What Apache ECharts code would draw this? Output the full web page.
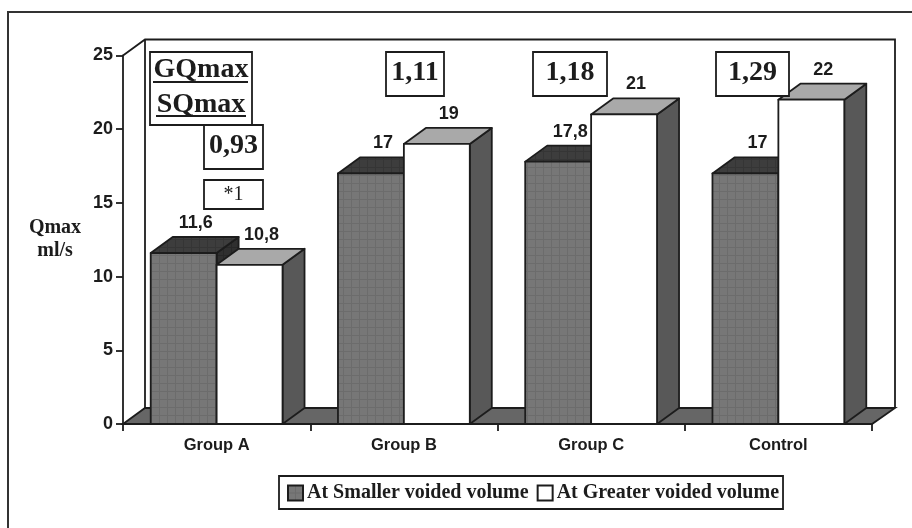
<!DOCTYPE html>
<html><head><meta charset="utf-8">
<style>html,body{margin:0;padding:0;background:#fff}#c{width:912px;height:528px}</style>
<script src="https://cdn.jsdelivr.net/npm/echarts@6/dist/echarts.min.js"></script>
</head><body><div id="c"></div>
<script>
const categories = ['Group A','Group B','Group C','Control'];
const smallerValues = [11.6,17,17.8,17];
const greaterValues = [10.8,19,21,22];
const smallerLabels = ['11,6','17','17,8','17'];
const greaterLabels = ['10,8','19','21','22'];
const yTicks = [0,5,10,15,20,25];
const ratioBoxes = [
  {text:'0,93',x:204,y:125,w:59,h:44},
  {text:'1,11',x:386,y:52,w:58,h:44},
  {text:'1,18',x:533,y:52,w:74,h:44},
  {text:'1,29',x:716,y:52,w:73,h:44}
];
const INK='#1c1c1c', SERIF='"Liberation Serif",serif', SANS='"Liberation Sans",sans-serif';
const DX=22, DY=16, STROKE=1.8;

function pat(base,line){
  const c=document.createElement('canvas');c.width=8;c.height=8;
  const g=c.getContext('2d');g.fillStyle=base;g.fillRect(0,0,8,8);
  g.fillStyle=line;g.fillRect(0,7,8,1);g.fillRect(7,0,1,8);
  return {image:c,repeat:'repeat'};
}
const frontPat=pat('#777777','#6c6c6c'), topPat=pat('#3d3d3d','#353535'), sidePat=pat('#2f2f2f','#272727');

function barSeries(name,values,labels,sign,front,top,side){
  return {
    name,type:'custom',coordinateSystem:'cartesian2d',
    itemStyle:{color:front,borderColor:INK,borderWidth:STROKE},
    data:values.map((v,i)=>[i,v]),
    encode:{x:0,y:1},
    renderItem(params,api){
      const i=api.value(0), v=api.value(1);
      const p=api.coord([i,v]), b=api.coord([i,0]);
      const w=api.size([1,0])[0]*0.352;
      const x0=sign<0?p[0]-w:p[0], x1=x0+w, y=p[1], yb=b[1];
      const st=f=>({fill:f,stroke:INK,lineWidth:STROKE,lineJoin:'round'});
      return {type:'group',children:[
        {type:'polygon',shape:{points:[[x1,y],[x1+DX,y-DY],[x1+DX,yb-DY],[x1,yb]]},style:st(side)},
        {type:'polygon',shape:{points:[[x0,y],[x0+DX,y-DY],[x1+DX,y-DY],[x1,y]]},style:st(top)},
        {type:'rect',shape:{x:x0,y:y,width:w,height:yb-y},style:st(front)},
        {type:'text',style:{text:labels[i],x:(x0+x1)/2+DX/2+1,y:y-DY-14,align:'center',verticalAlign:'middle',
          font:'bold 18px '+SANS,fill:INK}}
      ]};
    }
  };
}

const wallSeries={
  type:'custom',coordinateSystem:'cartesian2d',silent:true,legendHoverLink:false,
  data:[[0,0]],encode:{x:0,y:1},z:1,
  renderItem(params,api){
    const s=params.coordSys, l=s.x, r=s.x+s.width, t=s.y, b=s.y+s.height;
    const st={stroke:INK,lineWidth:STROKE};
    return {type:'group',children:[
      {type:'polygon',shape:{points:[[l,b],[l+DX,b-DY],[r+DX+1,b-DY],[r,b]]},style:{fill:'#666666',...st}},
      {type:'polyline',shape:{points:[[l,t],[l+DX,t-DY],[r+DX+1,t-DY],[r+DX+1,b-DY]]},style:{fill:'none',...st}},
      {type:'line',shape:{x1:l+DX,y1:t-DY,x2:l+DX,y2:b-DY},style:st}
    ]};
  }
};

const box=(x,y,w,h)=>({type:'rect',shape:{x,y,width:w,height:h},style:{fill:'#fff',stroke:INK,lineWidth:STROKE},z:20});
const txt=(text,x,y,size,weight)=>({type:'text',z:21,style:{text,x,y,align:'center',verticalAlign:'middle',
  font:(weight||'bold')+' '+size+'px '+SERIF,fill:INK}});
const rule=(x1,x2,y)=>({type:'line',z:21,shape:{x1,y1:y,x2,y2:y},style:{stroke:INK,lineWidth:2}});

const graphics=[
  {type:'polyline',shape:{points:[[8,528],[8,12],[912,12]]},style:{fill:'none',stroke:'#333',lineWidth:2},z:0},
  box(150,52,102,73),
  txt('GQmax',201,70,28),rule(153,248,82),
  txt('SQmax',201,105,28),rule(156,246,116),
  box(204,180,59,29),txt('*1',233.5,195,20,'normal')
];
ratioBoxes.forEach(b=>{graphics.push(box(b.x,b.y,b.w,b.h),txt(b.text,b.x+b.w/2,b.y+b.h/2-1,28));});

const chart=echarts.init(document.getElementById('c'),null,{renderer:'canvas'});
chart.setOption({
  animation:false,
  backgroundColor:'#fff',
  grid:{left:123,right:40,top:55.5,bottom:104},
  legend:{
    left:279,top:476,padding:[7,4,6,8],itemWidth:15,itemHeight:15,itemGap:8,
    borderColor:INK,borderWidth:STROKE,backgroundColor:'#fff',
    textStyle:{fontFamily:SERIF,fontWeight:'bold',fontSize:20,color:INK,padding:[0,0,0,-1]},
    data:[{name:'At Smaller voided volume',icon:'rect'},{name:'At Greater voided volume',icon:'rect'}]
  },
  xAxis:{type:'category',data:categories,
    axisLine:{onZero:false,lineStyle:{color:INK,width:STROKE}},
    axisTick:{show:true,length:7,alignWithLabel:false,lineStyle:{color:INK,width:STROKE}},
    axisLabel:{margin:13,fontFamily:SANS,fontWeight:'bold',fontSize:16.5,color:INK},
    splitLine:{show:false}},
  yAxis:{type:'value',min:yTicks[0],max:yTicks[yTicks.length-1],interval:5,
    name:'Qmax\nml/s',nameLocation:'middle',nameRotate:0,nameGap:68,
    nameTextStyle:{fontFamily:SERIF,fontWeight:'bold',fontSize:20,color:INK,lineHeight:23,align:'center',verticalAlign:'middle',padding:[4,0,0,0]},
    axisLine:{show:true,lineStyle:{color:INK,width:STROKE}},
    axisTick:{show:true,length:7,lineStyle:{color:INK,width:STROKE}},
    axisLabel:{margin:10,fontFamily:SANS,fontWeight:'bold',fontSize:18,color:INK,padding:[4,0,0,0]},
    splitLine:{show:false}},
  series:[
    wallSeries,
    barSeries('At Smaller voided volume',smallerValues,smallerLabels,-1,frontPat,topPat,sidePat),
    barSeries('At Greater voided volume',greaterValues,greaterLabels,1,'#ffffff','#a9a9a9','#585858')
  ],
  graphic:{elements:graphics}
});
</script></body></html>
